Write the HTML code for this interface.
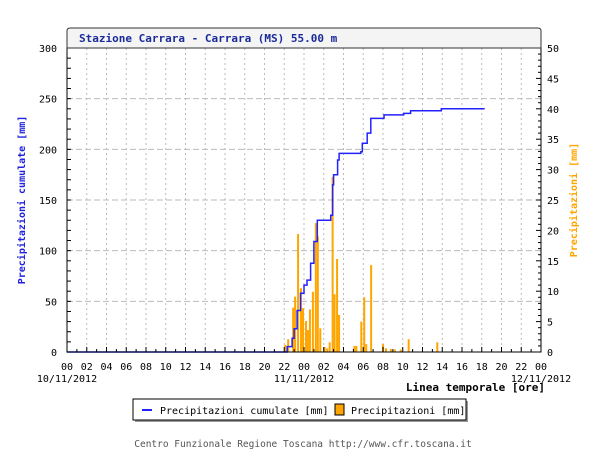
<!DOCTYPE html>
<html><head><meta charset="utf-8"><style>
body{margin:0;background:#fff;width:600px;height:450px;overflow:hidden;font-family:"DejaVu Sans Mono","Liberation Mono",monospace}
svg text{font-family:"DejaVu Sans Mono","Liberation Mono",monospace}
</style></head><body>
<svg id="chart" width="600" height="450">
<g id="grid"></g>
<g id="bars"></g>
<g id="line"></g>
<g id="axes"></g>
<path d="M67,48 L67,31 Q67,28 70,28 L538,28 Q541,28 541,31 L541,48 Z" fill="#f4f4f4" stroke="#333"/>
<text x="79" y="42" font-size="11" font-weight="bold" fill="#1a2b9a">Stazione Carrara - Carrara (MS) 55.00 m</text>
<text transform="translate(25,200) rotate(-90)" text-anchor="middle" font-size="10" font-weight="bold" fill="#2222dd">Precipitazioni cumulate [mm]</text>
<text transform="translate(577,200) rotate(-90)" text-anchor="middle" font-size="10" font-weight="bold" fill="#ffa500">Precipitazioni [mm]</text>
<text x="545" y="391" text-anchor="end" font-size="11" font-weight="bold" fill="#000">Linea temporale [ore]</text>
<g>
<rect x="135" y="401" width="333" height="21" fill="#999"/>
<rect x="133" y="399" width="333" height="21" fill="#fff" stroke="#000"/>
<line x1="142" y1="410" x2="152" y2="410" stroke="#2222ff" stroke-width="2"/>
<text x="160" y="414" font-size="10">Precipitazioni cumulate [mm]</text>
<rect x="335" y="404" width="9" height="11" fill="#ffa500" stroke="#000"/>
<text x="351" y="414" font-size="10">Precipitazioni [mm]</text>
</g>
<text x="303" y="447" text-anchor="middle" font-size="9.5" fill="#555">Centro Funzionale Regione Toscana http://www.cfr.toscana.it</text>
</svg>
<script>
const cumHours=[0,21.4,22.3,22.8,23.0,23.3,23.65,24.0,24.3,24.67,25.0,25.35,26.7,26.9,27.0,27.4,27.55,29.75,29.9,30.4,30.76,32.1,34.1,34.8,37.9,42.3];
const cumValues=[0,0,5.3,13.5,23,41,58,66,71,87.5,109,130,135,165,175,189.5,196,197.6,206,216,230.5,234,235.5,238,240,240];
const barHours=[22.1,22.4,22.9,23.1,23.4,23.7,23.9,24.2,24.4,24.6,24.9,25.2,25.4,25.65,26.1,26.35,26.6,26.9,27.1,27.35,27.55,29.1,29.3,29.8,30.1,30.3,30.8,32.0,32.3,32.8,33.2,33.8,34.6,37.5];
const barValues=[1.15,2.1,7.3,9.1,19.4,10.5,7.2,5.1,3.6,7,9.9,21.2,19,3.9,0.8,0.6,1.6,28.8,9.5,15.3,6.1,1,1,5,9,1.3,14.3,1.3,0.6,0.5,0.4,0.4,2.1,1.6];
const leftTicks=[0,50,100,150,200,250,300];
const rightTicks=[0,5,10,15,20,25,30,35,40,45,50];
const hourLabels=["00","02","04","06","08","10","12","14","16","18","20","22","00","02","04","06","08","10","12","14","16","18","20","22","00"];
const dateLabels=["10/11/2012","11/11/2012","12/11/2012"];
const X0=67,X1=541,Y0=352,Y1=48;
const x=h=>X0+h*(X1-X0)/48, yl=v=>Y0-v*(Y0-Y1)/300, yr=v=>Y0-v*(Y0-Y1)/50;
const NS="http://www.w3.org/2000/svg";
function mk(p,t,a){const e=document.createElementNS(NS,t);for(const k in a)e.setAttribute(k,a[k]);p.appendChild(e);return e;}
const grid=document.getElementById('grid'),axes=document.getElementById('axes'),bars=document.getElementById('bars'),line=document.getElementById('line');
for(let i=1;i<24;i++){const g=mk(grid,'line',{x1:x(i*2),x2:x(i*2),y1:Y1,y2:Y0,stroke:'#bbb','stroke-dasharray':'2,3'});

}
leftTicks.slice(1,-1).forEach(v=>{const g=mk(grid,'line',{x1:X0,x2:X1,y1:yl(v),y2:yl(v),stroke:'#bbb','stroke-dasharray':'6,3'});

});
barHours.forEach((h,i)=>{const r=mk(bars,'rect',{x:x(h)-1,y:yr(barValues[i]),width:2,height:Y0-yr(barValues[i]),fill:'#ffa500'});

});
let d='M'+x(cumHours[0]).toFixed(1)+','+yl(cumValues[0]).toFixed(1);
for(let i=1;i<cumHours.length;i++){d+='H'+x(cumHours[i]).toFixed(1)+'V'+yl(cumValues[i]).toFixed(1);}
const p=mk(line,'path',{d:d,fill:'none',stroke:'#2222ff','stroke-width':1.5});


mk(axes,'rect',{x:X0,y:Y1,width:X1-X0,height:Y0-Y1,fill:'none',stroke:'#000'});
leftTicks.forEach(v=>{const t=mk(axes,'text',{x:X0-10,y:yl(v)+4,'text-anchor':'end','font-size':'10','font-family':'Liberation Sans'});t.textContent=v;

});
for(let v=0;v<=300;v+=10)mk(axes,'line',{x1:X0,x2:X0+4,y1:yl(v),y2:yl(v),stroke:'#000'});
rightTicks.forEach(v=>{const t=mk(axes,'text',{x:X1+6,y:yr(v)+4,'font-size':'10','font-family':'Liberation Sans'});t.textContent=v;

});
for(let v=0;v<=50;v++)mk(axes,'line',{x1:X1,x2:X1-(v%5?3:5),y1:yr(v),y2:yr(v),stroke:'#000'});
for(let h=0;h<=48;h++)mk(axes,'line',{x1:x(h),x2:x(h),y1:Y0,y2:Y0-(h%2?3:5),stroke:'#000'});
hourLabels.forEach((s,i)=>{const t=mk(axes,'text',{x:x(i*2),y:370,'text-anchor':'middle','font-size':'10'});t.textContent=s;

});
dateLabels.forEach((s,i)=>{const t=mk(axes,'text',{x:x(i*24),y:382,'text-anchor':'middle','font-size':'10'});t.textContent=s;

});
</script>
</body></html>
